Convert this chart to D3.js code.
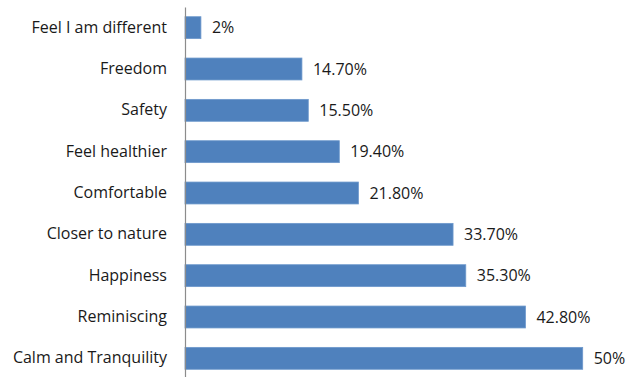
<!DOCTYPE html>
<html>
<head>
<meta charset="utf-8">
<script src="https://cdn.jsdelivr.net/npm/d3@7"></script>
<style>
  body { margin: 0; background: #fff; }
  svg { display: block; }
</style>
</head>
<body>
<div id="chart"></div>
<script>
// categories, top to bottom
const categories = [
  "Feel I am different", "Freedom", "Safety", "Feel healthier", "Comfortable",
  "Closer to nature", "Happiness", "Reminiscing", "Calm and Tranquility"
];
const values = [2, 14.7, 15.5, 19.4, 21.8, 33.7, 35.3, 42.8, 50];
const valueLabels = ["2%", "14.70%", "15.50%", "19.40%", "21.80%", "33.70%", "35.30%", "42.80%", "50%"];

const width = 629, height = 377;
const plotLeft = 185, plotTop = 7, plotBottom = 379;

const svg = d3.select("#chart").append("svg")
  .attr("width", width)
  .attr("height", height);

const x = d3.scaleLinear().domain([0, 50]).range([plotLeft, 582.7]);
const y = d3.scaleBand().domain(categories).range([plotTop, plotBottom]).paddingInner(0.47).paddingOuter(0.235);

const rows = categories.map((c, i) => ({ cat: c, v: values[i], lab: valueLabels[i] }));

// bars
svg.selectAll("rect.bar")
  .data(rows)
  .enter().append("rect")
  .attr("class", "bar")
  .attr("x", x(0))
  .attr("y", d => y(d.cat))
  .attr("width", d => x(d.v) - x(0))
  .attr("height", y.bandwidth())
  .attr("fill", "#4f81bd")
  .attr("stroke", "#6d98cc")
  .attr("stroke-width", 0.8);

// category axis
const axis = svg.append("g")
  .attr("transform", `translate(${plotLeft},0)`)
  .call(d3.axisLeft(y).tickSize(0).tickPadding(18));
axis.select(".domain").attr("stroke", "#8c8c8c").attr("stroke-width", 1.2);
axis.selectAll("text")
  .style("font-family", "'Open Sans', sans-serif")
  .style("font-size", "16px")
  .attr("fill", "#1a1a1a");

// value labels
svg.selectAll("text.val")
  .data(rows)
  .enter().append("text")
  .attr("class", "val")
  .attr("x", d => x(d.v) + 11)
  .attr("y", d => y(d.cat) + y.bandwidth() / 2)
  .attr("dy", "0.35em")
  .style("font-family", "'Open Sans', sans-serif")
  .style("font-size", "16px")
  .attr("fill", "#1a1a1a")
  .text(d => d.lab);
</script>
</body>
</html>
